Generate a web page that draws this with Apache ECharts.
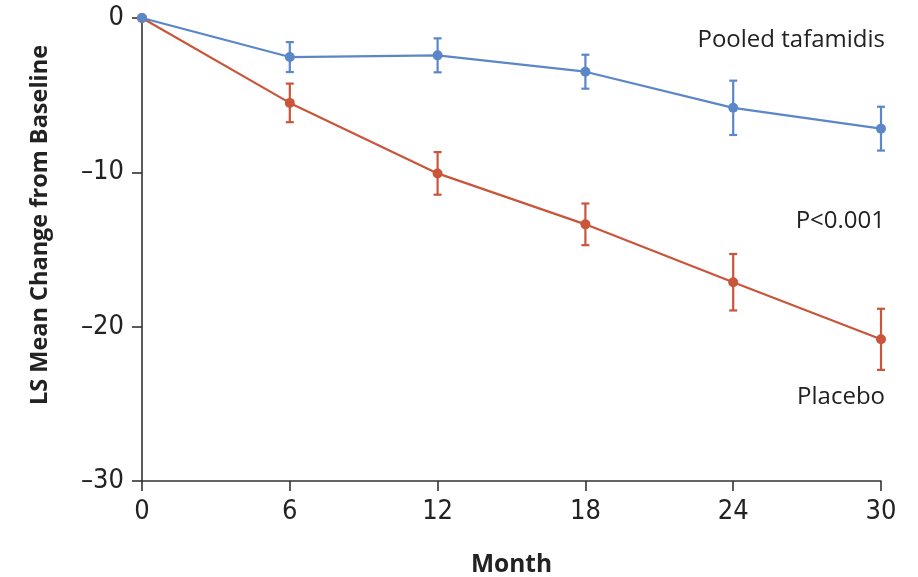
<!DOCTYPE html>
<html><head><meta charset="utf-8">
<script src="https://cdn.jsdelivr.net/npm/echarts@6/dist/echarts.min.js"></script>
<style>html,body{margin:0;padding:0;background:#fff}#c{width:918px;height:577px}</style>
</head><body><div id="c"></div>
<script>
const months = [0, 6, 12, 18, 24, 30];
const tafMean = [0, -2.53, -2.42, -3.48, -5.82, -7.17];
const tafErr  = [0, 0.97, 1.1, 1.1, 1.76, 1.42];
const plaMean = [0, -5.5, -10.07, -13.37, -17.12, -20.82];
const plaErr  = [0, 1.25, 1.38, 1.35, 1.83, 1.98];
const yTicks = [0, -10, -20, -30];
const xTicks = [0, 6, 12, 18, 24, 30];
const labels = {taf: 'Pooled tafamidis', pla: 'Placebo', p: 'P<0.001'};
const axisNames = {x: 'Month', y: 'LS Mean Change from Baseline'};

const BLUE = '#5b87c8', RED = '#c9553a', INK = '#222';
const FONT = 'Open Sans';
const TICKFONT = '"Liberation Sans Narrow", "DejaVu Sans Condensed", "Open Sans", sans-serif';

function errData(mean, err) {
  return months.map((m, i) => [m, mean[i] + err[i], mean[i] - err[i]]).filter((d, i) => err[i] > 0);
}
function errSeries(mean, err, color) {
  return {
    type: 'custom', data: errData(mean, err), z: 2,
    renderItem: function (params, api) {
      const top = api.coord([api.value(0), api.value(1)]);
      const bot = api.coord([api.value(0), api.value(2)]);
      const w = 4;
      const style = {stroke: color, lineWidth: 2.2};
      return {type: 'group', children: [
        {type: 'line', shape: {x1: top[0], y1: top[1], x2: bot[0], y2: bot[1]}, style},
        {type: 'line', shape: {x1: top[0] - w, y1: top[1], x2: top[0] + w, y2: top[1]}, style},
        {type: 'line', shape: {x1: bot[0] - w, y1: bot[1], x2: bot[0] + w, y2: bot[1]}, style}
      ]};
    }
  };
}

const chart = echarts.init(document.getElementById('c'), null, {renderer: 'canvas'});
chart.setOption({
  animation: false,
  grid: {left: 142, right: 37, top: 18, bottom: 96, containLabel: false, outerBoundsMode: 'none'},
  xAxis: {
    type: 'value', min: 0, max: 30, interval: 6,
    name: axisNames.x, nameLocation: 'middle', nameGap: 72,
    nameTextStyle: {fontFamily: FONT, fontSize: 24.5, fontWeight: 'bold', color: INK},
    axisLine: {onZero: false, lineStyle: {color: '#333', width: 1.6}},
    axisTick: {show: true, length: 10, lineStyle: {color: '#333', width: 1.6}},
    axisLabel: {fontFamily: TICKFONT, fontSize: 27, color: INK, margin: 17},
    splitLine: {show: false}
  },
  yAxis: {
    type: 'value', min: -30, max: 0, interval: 10,
    axisLine: {show: true, lineStyle: {color: '#333', width: 1.6}},
    axisTick: {show: true, length: 10, lineStyle: {color: '#333', width: 1.6}},
    axisLabel: {fontFamily: TICKFONT, fontSize: 27, color: INK, margin: 18,
      formatter: v => v < 0 ? '\u2013' + Math.abs(v) : String(v)},
    splitLine: {show: false}
  },
  series: [
    errSeries(plaMean, plaErr, RED),
    errSeries(tafMean, tafErr, BLUE),
    {type: 'line', data: months.map((m, i) => [m, plaMean[i]]), z: 3,
     symbol: 'circle', symbolSize: 10, showSymbol: true,
     lineStyle: {color: RED, width: 2.2}, itemStyle: {color: RED}},
    {type: 'line', data: months.map((m, i) => [m, tafMean[i]]), z: 4,
     symbol: 'circle', symbolSize: 10, showSymbol: true,
     lineStyle: {color: BLUE, width: 2.2}, itemStyle: {color: BLUE}}
  ],
  graphic: [
    {type: 'text', x: 885, y: 40, style: {text: labels.taf, fontFamily: FONT, fontSize: 24, fill: INK, align: 'right', verticalAlign: 'middle'}},
    {type: 'text', x: 885, y: 221, style: {text: labels.p, fontFamily: FONT, fontSize: 24, fill: INK, align: 'right', verticalAlign: 'middle'}},
    {type: 'text', x: 885, y: 397, style: {text: labels.pla, fontFamily: FONT, fontSize: 24, fill: INK, align: 'right', verticalAlign: 'middle'}},
    {type: 'text', x: 40, y: 225, rotation: Math.PI / 2,
     style: {text: axisNames.y, fontFamily: FONT, fontSize: 23.5, fontWeight: 'bold', fill: INK, align: 'center', verticalAlign: 'middle'}}
  ]
});
</script></body></html>
